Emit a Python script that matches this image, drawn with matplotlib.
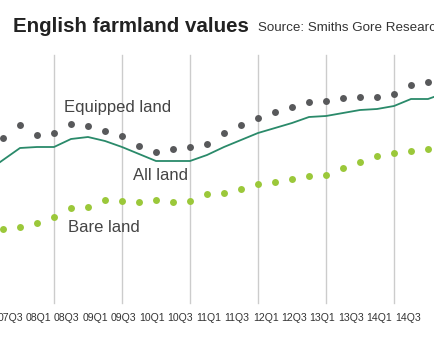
import matplotlib
matplotlib.use("Agg")
import matplotlib.pyplot as plt
import numpy as np

plt.rcParams['font.family'] = ['Liberation Sans', 'DejaVu Sans']

# Quarter index (0 = first full quarter visible); values as index units
quarters = list(range(26))
equipped = [212, 225, 215, 217, 226, 224, 219, 214, 204, 198, 201, 203, 206,
            217, 225, 232, 238, 243, 248, 249, 252, 253, 253, 256, 265, 268]
bare = [121, 123, 127, 133, 142, 143, 150, 149, 148, 150, 148, 149, 156,
        157, 161, 166, 168, 171, 174, 175, 182, 188, 194, 197, 199, 201]
all_quarters = list(range(-1, 27))
all_land = [178, 190, 202, 203, 203, 211, 213, 209, 203, 196, 189, 189, 189,
            195, 203, 210, 217, 222, 227, 233, 234, 237, 240, 241, 244, 251,
            251, 257]
gridlines = [3, 7, 11, 15, 19, 23]
tick_labels = ['07Q3', '08Q1', '08Q3', '09Q1', '09Q3', '10Q1', '10Q3', '11Q1',
               '11Q3', '12Q1', '12Q3', '13Q1', '13Q3', '14Q1', '14Q3']

W, H = 435, 350
fig = plt.figure(figsize=(W / 100, H / 100), dpi=100)
fig.patch.set_facecolor('white')

ax = fig.add_axes([0, 0, 1, 1])
ax.set_xlim(-3 / 17, 432 / 17)
ax.set_ylim(0, 350)
ax.axis('off')

for g in gridlines:
    ax.axvline(g, ymin=(H - 303) / H, ymax=(H - 55) / H, color='#cccccc', lw=1.0, zorder=1)

ax.plot(all_quarters, all_land, color='#2a8a6a', lw=1.3, zorder=2)
ax.plot(quarters, equipped, 'o', color='#58595b', ms=5, mec='none', zorder=3)
ax.plot(quarters, bare, 'o', color='#9bc83a', ms=5, mec='none', zorder=3)

# bottom label axis
ax2 = fig.add_axes([0, (H - 312) / H, 1, 0.001], frameon=False)
ax2.set_xlim(-10 / 28.4, 425 / 28.4)
ax2.set_xticks(range(len(tick_labels)))
ax2.set_xticklabels(tick_labels, fontsize=7.6, color='#333333')
ax2.tick_params(axis='x', length=0, pad=1)
ax2.set_yticks([])

def px(x, y):
    return x / W, 1 - y / H

fig.text(*px(13, 32), 'English farmland values', fontsize=14.8, fontweight='bold',
         color='#222222', va='baseline', ha='left')
fig.text(*px(258, 31), 'Source: Smiths Gore Research', fontsize=9.6,
         color='#333333', va='baseline', ha='left')

fig.text(*px(64, 108), 'Equipped land', fontsize=12, color='#444444', va='center', ha='left')
fig.text(*px(133, 176), 'All land', fontsize=12, color='#444444', va='center', ha='left')
fig.text(*px(68, 227), 'Bare land', fontsize=12, color='#444444', va='center', ha='left')

fig.savefig('out.png', dpi=100, facecolor='white')
